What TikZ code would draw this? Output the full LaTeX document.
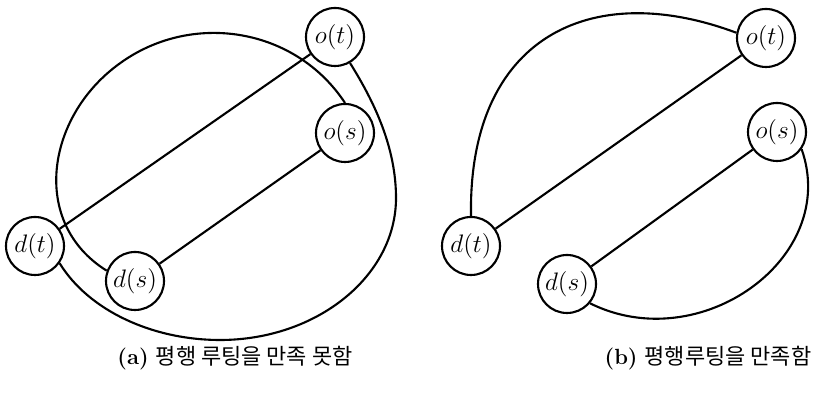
\documentclass[tikz,border=0pt]{standalone}
\usepackage{fontspec}
\newfontfamily\krfont{Noto Sans CJK KR}
\begin{document}
\begin{tikzpicture}[x=0.2mm, y=0.2mm, line width=1.2pt,
    vtx/.style={circle, draw, line width=1.2pt, minimum size=1.16cm, inner sep=0pt, font=\Large},
    captext/.style={font=\fontsize{12.5}{15}\selectfont}]
    \useasboundingbox (0,0) rectangle (814,398);
    % ---- (a) ----
    \node[vtx] (ot) at (335,361) {$o(t)$};
    \node[vtx] (os) at (345,265) {$o(s)$};
    \node[vtx] (dt) at (35,152) {$d(t)$};
    \node[vtx] (ds) at (135,117) {$d(s)$};
    \draw (ot) -- (dt);
    \draw (os) -- (ds);
    \draw (os.north) .. controls (295,371) and (191,387) .. (119,334)
        .. controls (46,281) and (30,175) .. (ds.160);
    \draw (ot.-60) .. controls (375,295) and (396,250) .. (396,200)
        .. controls (396,122) and (317,58) .. (220,58)
        .. controls (153,58) and (89,87) .. (dt.-35);
    \node[captext] (capa) at (235,40) {\textbf{(a)} {\krfont 평행 루팅을 만족 못함}};
    % ---- (b) ----
    \node[vtx] (ot2) at (766,360) {$o(t)$};
    \node[vtx] (os2) at (777,266) {$o(s)$};
    \node[vtx] (dt2) at (471,152) {$d(t)$};
    \node[vtx] (ds2) at (567,114) {$d(s)$};
    \draw (ot2) -- (dt2);
    \draw (os2) -- (ds2);
    \draw (dt2.north) .. controls (468,360) and (590,420) .. (ot2.170);
    \draw (os2.-35) .. controls (840,140) and (700,40) .. (ds2.-40);
    \node[captext] (capb) at (708,40) {\textbf{(b)} {\krfont 평행루팅을 만족함}};
\end{tikzpicture}
\end{document}
